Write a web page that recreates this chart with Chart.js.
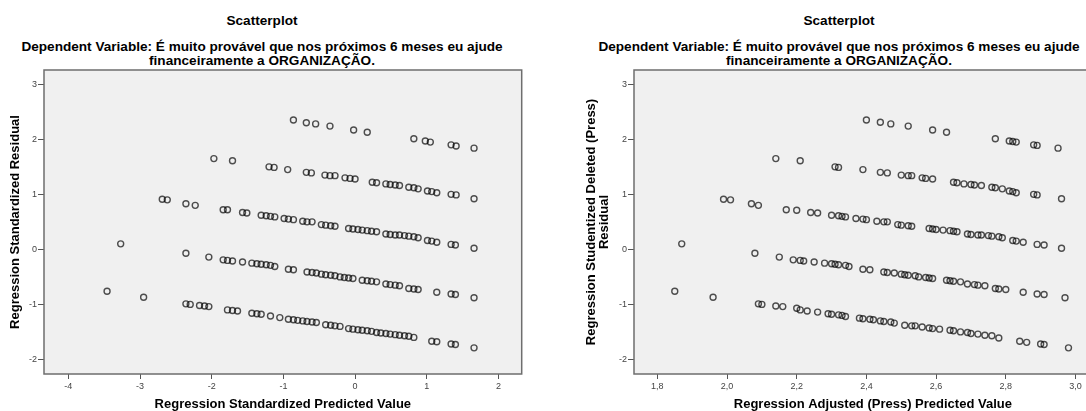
<!DOCTYPE html>
<html>
<head>
<meta charset="utf-8">
<script src="https://cdn.jsdelivr.net/npm/chart.js@4.4.1/dist/chart.umd.min.js"></script>
<style>
body { margin:0; width:1086px; height:411px; overflow:hidden; background:#fff; position:relative; font-family:Arial, "Liberation Sans", sans-serif; }
.ttl { position:absolute; width:600px; text-align:center; font-weight:bold; color:#000; white-space:nowrap; }
.main { font-size:13.6px; line-height:14px; top:14px; }
.sub { font-size:13.6px; line-height:14px; top:40px; }
canvas { position:absolute; top:0; }
</style>
</head>
<body>
<div class="ttl main" style="left:-38px">Scatterplot</div>
<div class="ttl sub" style="left:-38px">Dependent Variable: É muito provável que nos próximos 6 meses eu ajude<br>financeiramente a ORGANIZAÇÃO.</div>
<div class="ttl main" style="left:539px">Scatterplot</div>
<div class="ttl sub" style="left:539px">Dependent Variable: É muito provável que nos próximos 6 meses eu ajude<br>financeiramente a ORGANIZAÇÃO.</div>
<canvas id="left-chart" width="543" height="411" style="left:0"></canvas>
<canvas id="right-chart" width="600" height="411" style="left:543px"></canvas>
<script>
// left plot: standardized predicted value vs standardized residual
let std_pred = [
  -0.86,-0.68,-0.55,-0.35,-0.02,0.17,0.82,0.98,1.05,1.34,1.41,1.66,
  -1.97,-1.71,-1.20,-1.13,-0.94,-0.68,-0.61,-0.42,-0.35,-0.28,-0.14,-0.07,0.00,0.24,0.30,0.43,0.49,0.56,0.62,0.75,0.82,0.88,1.01,1.07,1.14,1.34,1.41,1.66,
  -2.69,-2.62,-2.36,-2.23,-1.84,-1.78,-1.57,-1.51,-1.31,-1.24,-1.18,-1.12,-0.99,-0.93,-0.86,-0.73,-0.67,-0.60,-0.47,-0.41,-0.34,-0.28,-0.09,-0.03,0.04,0.10,0.17,0.23,0.30,0.43,0.49,0.56,0.62,0.69,0.75,0.82,0.88,1.01,1.07,1.14,1.34,1.40,1.66,-3.27,
  -2.36,-2.04,-1.84,-1.78,-1.71,-1.57,-1.44,-1.37,-1.31,-1.24,-1.18,-1.12,-0.93,-0.86,-0.67,-0.60,-0.54,-0.47,-0.41,-0.34,-0.28,-0.21,-0.15,-0.09,-0.03,0.10,0.17,0.23,0.30,0.43,0.49,0.56,0.62,0.75,0.82,0.88,1.14,1.34,1.40,1.66,-3.46,-2.95,
  -2.36,-2.30,-2.17,-2.10,-2.04,-1.78,-1.71,-1.64,-1.44,-1.37,-1.31,-1.18,-1.05,-0.93,-0.86,-0.80,-0.73,-0.67,-0.60,-0.54,-0.41,-0.34,-0.28,-0.21,-0.09,-0.03,0.04,0.10,0.17,0.23,0.30,0.36,0.43,0.49,0.56,0.62,0.69,0.75,0.82,1.07,1.14,1.34,1.40,1.66
]
let std_resid = [
  2.36,2.31,2.29,2.25,2.18,2.14,2.02,1.98,1.96,1.91,1.89,1.85,
  1.66,1.62,1.51,1.50,1.46,1.41,1.40,1.36,1.35,1.35,1.31,1.30,1.29,1.23,1.22,1.20,1.19,1.18,1.17,1.14,1.13,1.11,1.07,1.06,1.04,1.01,1.00,0.93,
  0.92,0.91,0.84,0.81,0.73,0.73,0.68,0.67,0.63,0.62,0.61,0.60,0.57,0.56,0.55,0.52,0.51,0.51,0.46,0.45,0.44,0.43,0.39,0.38,0.37,0.36,0.35,0.34,0.33,0.29,0.28,0.27,0.27,0.26,0.25,0.24,0.22,0.17,0.16,0.14,0.10,0.09,0.03,0.11,
  -0.06,-0.13,-0.18,-0.19,-0.20,-0.22,-0.24,-0.25,-0.26,-0.27,-0.28,-0.30,-0.35,-0.36,-0.40,-0.41,-0.42,-0.44,-0.45,-0.46,-0.47,-0.49,-0.50,-0.51,-0.52,-0.55,-0.56,-0.57,-0.58,-0.62,-0.63,-0.64,-0.65,-0.70,-0.71,-0.72,-0.77,-0.80,-0.81,-0.87,-0.75,-0.86,
  -0.98,-0.99,-1.01,-1.02,-1.03,-1.09,-1.10,-1.11,-1.15,-1.16,-1.17,-1.20,-1.23,-1.26,-1.27,-1.28,-1.29,-1.30,-1.31,-1.32,-1.36,-1.37,-1.38,-1.39,-1.43,-1.44,-1.45,-1.46,-1.47,-1.48,-1.50,-1.51,-1.52,-1.53,-1.54,-1.55,-1.56,-1.57,-1.59,-1.66,-1.67,-1.71,-1.72,-1.78
]

// right plot: adjusted (press) predicted value vs studentized deleted residual
let adj_pred = [
  2.40,2.44,2.47,2.52,2.59,2.63,2.77,2.81,2.82,2.83,2.88,2.89,2.95,
  2.14,2.21,2.31,2.32,2.39,2.44,2.46,2.50,2.52,2.53,2.56,2.57,2.59,2.65,2.66,2.68,2.70,2.71,2.73,2.76,2.77,2.79,2.81,2.82,2.83,2.88,2.89,2.96,
  1.99,2.01,2.07,2.09,2.17,2.20,2.24,2.26,2.30,2.32,2.33,2.34,2.37,2.39,2.40,2.43,2.45,2.46,2.49,2.50,2.52,2.53,2.58,2.59,2.60,2.62,2.64,2.65,2.66,2.69,2.70,2.72,2.73,2.75,2.76,2.78,2.79,2.82,2.83,2.85,2.89,2.91,2.96,1.87,
  2.08,2.15,2.19,2.21,2.22,2.25,2.28,2.30,2.31,2.32,2.34,2.35,2.39,2.41,2.45,2.46,2.48,2.50,2.51,2.52,2.54,2.55,2.57,2.58,2.59,2.63,2.64,2.65,2.67,2.69,2.71,2.72,2.74,2.77,2.78,2.80,2.85,2.89,2.91,2.97,1.85,1.96,
  2.09,2.10,2.14,2.16,2.20,2.21,2.23,2.26,2.29,2.30,2.32,2.33,2.34,2.38,2.39,2.41,2.42,2.44,2.45,2.47,2.48,2.51,2.53,2.54,2.56,2.58,2.59,2.61,2.64,2.65,2.67,2.69,2.70,2.72,2.74,2.76,2.78,2.84,2.86,2.90,2.91,2.98
]
let del_resid = [
  2.36,2.32,2.29,2.25,2.18,2.14,2.02,1.98,1.97,1.96,1.91,1.90,1.85,
  1.66,1.62,1.51,1.50,1.46,1.41,1.40,1.36,1.35,1.35,1.31,1.30,1.29,1.23,1.22,1.20,1.19,1.18,1.17,1.14,1.13,1.11,1.07,1.06,1.04,1.01,1.00,0.93,
  0.92,0.91,0.84,0.81,0.73,0.72,0.68,0.67,0.63,0.62,0.61,0.60,0.57,0.56,0.55,0.52,0.51,0.51,0.46,0.45,0.44,0.43,0.39,0.38,0.37,0.36,0.35,0.34,0.33,0.29,0.28,0.27,0.27,0.26,0.25,0.24,0.22,0.17,0.16,0.14,0.10,0.09,0.03,0.11,
  -0.06,-0.13,-0.18,-0.19,-0.20,-0.22,-0.24,-0.25,-0.26,-0.27,-0.28,-0.30,-0.35,-0.36,-0.40,-0.41,-0.42,-0.44,-0.45,-0.46,-0.47,-0.49,-0.50,-0.51,-0.52,-0.55,-0.56,-0.57,-0.58,-0.62,-0.63,-0.64,-0.65,-0.70,-0.71,-0.72,-0.77,-0.80,-0.81,-0.87,-0.75,-0.86,
  -0.98,-0.99,-1.02,-1.03,-1.06,-1.09,-1.11,-1.13,-1.16,-1.17,-1.18,-1.19,-1.21,-1.24,-1.25,-1.26,-1.27,-1.29,-1.30,-1.31,-1.33,-1.37,-1.38,-1.38,-1.40,-1.42,-1.43,-1.44,-1.46,-1.47,-1.49,-1.50,-1.52,-1.53,-1.55,-1.56,-1.60,-1.66,-1.68,-1.71,-1.72,-1.78
]

let y_ticks = [-2, -1, 0, 1, 2, 3]
let left_x_ticks = [-4, -3, -2, -1, 0, 1, 2]
let right_x_ticks = [1.8, 2.0, 2.2, 2.4, 2.6, 2.8, 3.0]


function to_points(xs, ys) {
    return xs.map((x, i) => ({x: x, y: ys[i]}))
}

// grey plot area with frame, like SPSS
const plot_frame = {
    id: 'plot_frame',
    beforeDatasetsDraw(chart) {
        let a = chart.chartArea
        chart.ctx.save()
        chart.ctx.fillStyle = '#f0f0f0'
        chart.ctx.fillRect(a.left, a.top, a.right - a.left, a.bottom - a.top)
        chart.ctx.restore()
    },
    afterDraw(chart) {
        let a = chart.chartArea
        chart.ctx.save()
        chart.ctx.strokeStyle = '#6e6e6e'
        chart.ctx.lineWidth = 1.5
        chart.ctx.strokeRect(a.left, a.top, a.right - a.left, a.bottom - a.top)
        chart.ctx.restore()
    }
}

function make_chart(id, points, x_ticks, x_min, x_max, x_title, y_title, y_width, x_fmt, pad_right, y_title_pad) {
    return new Chart(document.getElementById(id), {
        type: 'scatter',
        data: {
            datasets: [{
                data: points,
                pointStyle: 'circle',
                pointRadius: 3,
                pointHoverRadius: 3,
                borderWidth: 1.4,
                borderColor: 'rgba(0,0,0,0.68)',
                backgroundColor: 'rgba(0,0,0,0)'
            }]
        },
        options: {
            responsive: false,
            animation: false,
            events: [],
            layout: {padding: {top: 70, right: pad_right, left: 0, bottom: 0}},
            plugins: {legend: {display: false}, tooltip: {enabled: false}},
            scales: {
                x: {
                    type: 'linear',
                    min: x_min,
                    max: x_max,
                    afterBuildTicks: s => { s.ticks = x_ticks.map(v => ({value: v})) },
                    afterFit: s => { s.height = 37 },
                    grid: {drawOnChartArea: false, drawTicks: true, tickLength: 5, color: '#555'},
                    border: {display: false},
                    ticks: {padding: 2, color: '#444', font: {family: 'Arial', size: 9}, callback: x_fmt, autoSkip: false, maxRotation: 0},
                    title: {display: true, text: x_title, color: '#000', padding: {top: 0, bottom: 0}, font: {family: 'Arial', size: 13, weight: 'bold', lineHeight: 1}}
                },
                y: {
                    type: 'linear',
                    min: -2.255,
                    max: 3.27,
                    afterBuildTicks: s => { s.ticks = y_ticks.map(v => ({value: v})) },
                    afterFit: s => { s.width = y_width },
                    grid: {drawOnChartArea: false, drawTicks: true, tickLength: 6, color: '#555'},
                    border: {display: false},
                    ticks: {padding: 1, color: '#444', font: {family: 'Arial', size: 9}, autoSkip: false},
                    title: {display: true, text: y_title, color: '#000', padding: {top: y_title_pad, bottom: 0}, font: {family: 'Arial', size: 13, weight: 'bold', lineHeight: 1}}
                }
            }
        },
        plugins: [plot_frame]
    })
}

let left_chart = make_chart('left-chart', to_points(std_pred, std_resid), left_x_ticks, -4.34, 2.325,
    'Regression Standardized Predicted Value', 'Regression Standardized Residual', 44, v => v, 21.3, 9)

let right_chart = make_chart('right-chart', to_points(adj_pred, del_resid), right_x_ticks, 1.733, 3.104,
    'Regression Adjusted (Press) Predicted Value', ['Regression Studentized Deleted (Press)', 'Residual'], 91,
    v => v.toFixed(1).replace('.', ','), 31.3, 42)
</script>
</body>
</html>
